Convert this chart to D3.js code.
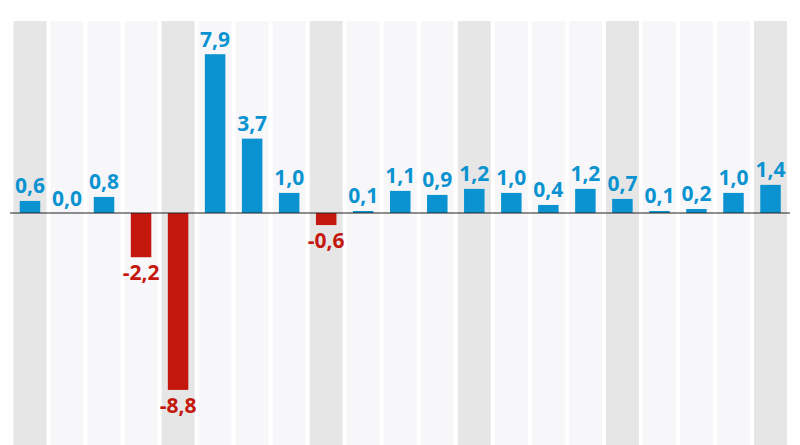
<!DOCTYPE html>
<html>
<head>
<meta charset="utf-8">
<script src="https://cdn.jsdelivr.net/npm/d3@7"></script>
<style>
  html, body { margin: 0; padding: 0; background: #ffffff; }
  svg { display: block; }
</style>
</head>
<body>
<div id="mainDiv"></div>
<script>
'use strict';

var myApp = {};

// quarter index, one per bar
myApp.quarters = d3.range(21);
// growth values, in percent
myApp.values = [0.6, 0.0, 0.8, -2.2, -8.8, 7.9, 3.7, 1.0, -0.6, 0.1, 1.1, 0.9, 1.2, 1.0, 0.4, 1.2, 0.7, 0.1, 0.2, 1.0, 1.4];

myApp.width = 800;
myApp.height = 445;
myApp.blue = "#0a93d0";
myApp.red = "#c4180e";

myApp.formatValue = function (v)
{
    return d3.format(".1f")(v).replace(".", ",").replace("\u2212", "-");
}

myApp.run = function ()
{
    var svg = d3.select("#mainDiv").append("svg")
        .attr("width", myApp.width)
        .attr("height", myApp.height);

    var x = d3.scaleBand()
        .domain(myApp.quarters)
        .range([13.5, 787])
        .paddingInner(0.11)
        .paddingOuter(0);

    var y = d3.scaleLinear()
        .domain([-9, 8])
        .range([213 + 9 * 20.1, 213 - 8 * 20.1]);

    var barW = 20.5;

    // alternating column backgrounds, darker for every first quarter
    svg.append("g").selectAll("rect")
        .data(myApp.quarters)
        .enter()
        .append("rect")
            .attr("x", function (d) { return x(d); })
            .attr("y", 21)
            .attr("width", x.bandwidth())
            .attr("height", myApp.height - 21)
            .attr("fill", function (d) { return d % 4 === 0 ? "#e6e6e6" : "#f7f7f9"; });

    var data = myApp.quarters.map(function (q, i) { return { q: q, v: myApp.values[i] }; });

    svg.append("g").selectAll("rect")
        .data(data)
        .enter()
        .append("rect")
            .attr("x", function (d) { return x(d.q) + x.bandwidth() / 2 - barW / 2; })
            .attr("y", function (d) { return y(Math.max(0, d.v)); })
            .attr("width", barW)
            .attr("height", function (d) { return Math.abs(y(d.v) - y(0)); })
            .attr("fill", function (d) { return d.v < 0 ? myApp.red : myApp.blue; });

    // zero line
    svg.append("line")
        .attr("x1", 10)
        .attr("x2", 790)
        .attr("y1", y(0))
        .attr("y2", y(0))
        .attr("stroke", "#222222")
        .attr("stroke-width", 1.2);

    svg.append("g").selectAll("text")
        .data(data)
        .enter()
        .append("text")
            .text(function (d) { return myApp.formatValue(d.v); })
            .attr("text-anchor", "middle")
            .attr("x", function (d) { return x(d.q) + x.bandwidth() / 2; })
            .attr("y", function (d) { return d.v < 0 ? y(d.v) + 23 : y(d.v) - 7.5; })
            .attr("font-family", "'Open Sans', sans-serif")
            .attr("font-weight", "bold")
            .attr("font-size", "21px")
            .attr("fill", function (d) { return d.v < 0 ? myApp.red : myApp.blue; });
}

window.onload = myApp.run;
</script>
</body>
</html>
